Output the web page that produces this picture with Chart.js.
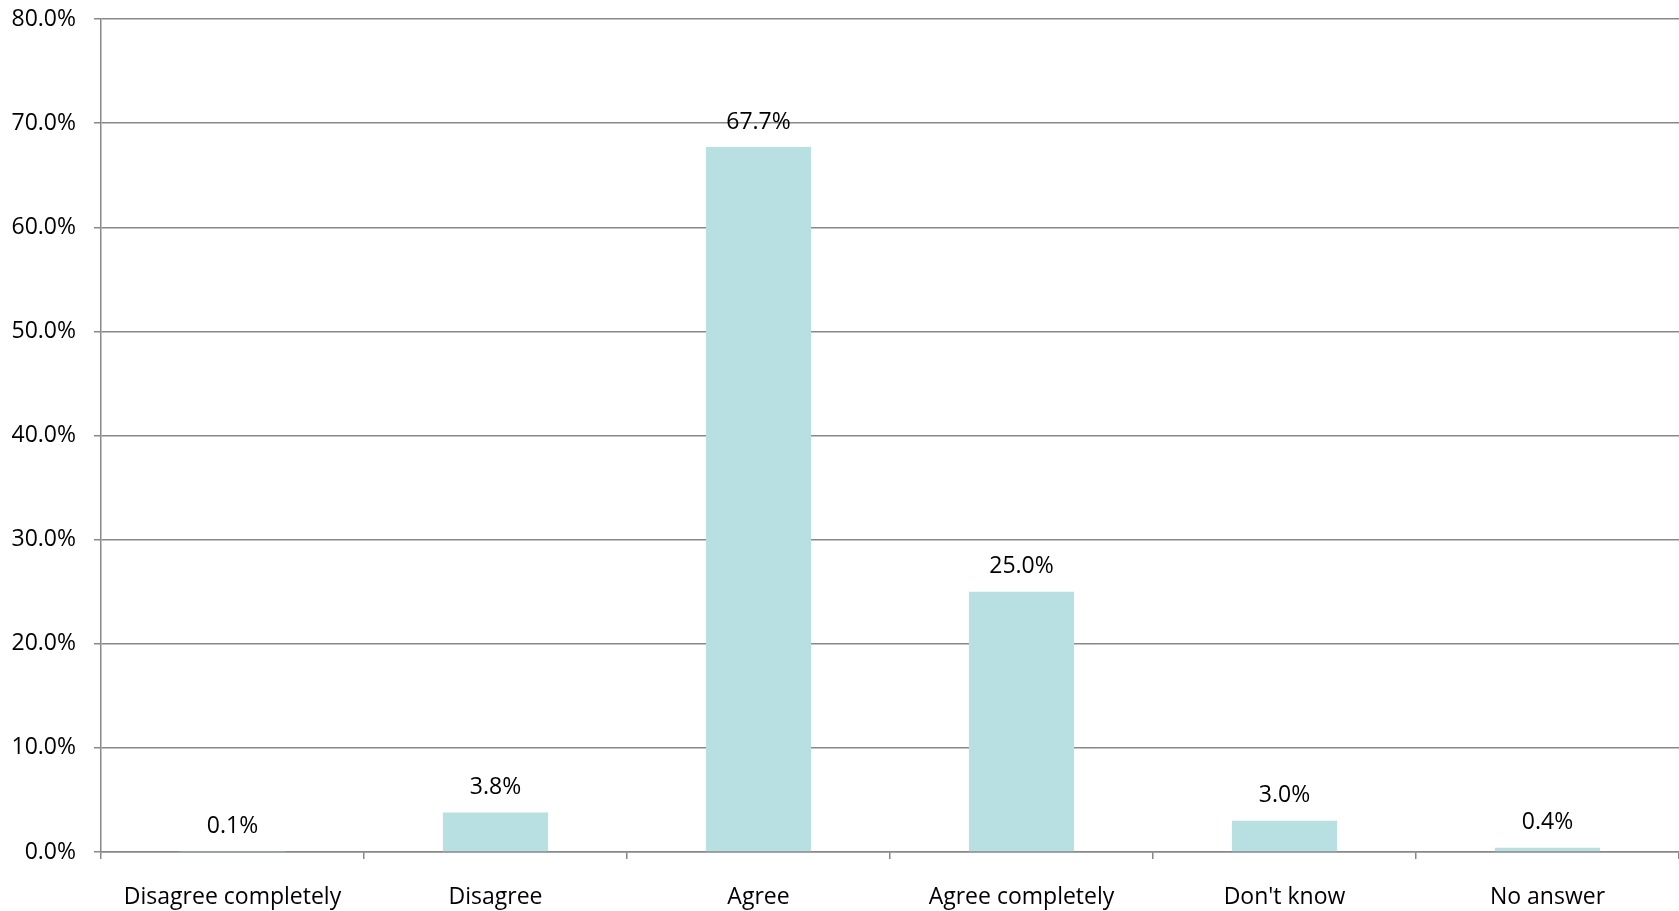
<!DOCTYPE html>
<html>
<head>
<meta charset="utf-8">
<script src="https://cdn.jsdelivr.net/npm/chart.js@4"></script>
<style>
  html, body { margin: 0; padding: 0; background: #fff; }
  #wrap { width: 1679px; height: 911px; }
</style>
</head>
<body>
<div id="wrap"><canvas id="myChart"></canvas></div>
<script>
var categories = ['Disagree completely', 'Disagree', 'Agree', 'Agree completely', "Don't know", 'No answer'];
var shares = [0.1, 3.8, 67.7, 25.0, 3.0, 0.4];
var yMax = 80;
var yStep = 10;

// draws the value above each bar
var valueLabels = {
    id: 'valueLabels',
    afterDatasetsDraw: function (chart) {
        var c = chart.ctx;
        var meta = chart.getDatasetMeta(0);
        c.save();
        c.font = '23px "Open Sans"';
        c.fillStyle = '#000';
        c.textAlign = 'center';
        c.textBaseline = 'middle';
        meta.data.forEach(function (bar, i) {
            c.fillText(shares[i].toFixed(1) + '%', bar.x, bar.y - 25);
        });
        c.restore();
    }
};

var ctx = document.getElementById('myChart').getContext('2d');
var chart = new Chart(ctx, {
    type: 'bar',
    data: {
        labels: categories,
        datasets: [{
            data: shares,
            backgroundColor: 'rgb(184,223,226)',
            barPercentage: 0.4,
            categoryPercentage: 1
        }]
    },
    options: {
        responsive: true,
        maintainAspectRatio: false,
        animation: false,
        layout: { padding: { top: 19, right: 0, left: 0, bottom: 0 } },
        plugins: {
            legend: { display: false },
            tooltip: { enabled: false }
        },
        scales: {
            x: {
                offset: true,
                grid: {
                    offset: true,
                    drawOnChartArea: false,
                    drawTicks: true,
                    tickLength: 7,
                    color: '#888',
                    lineWidth: 1.5
                },
                border: { display: true, color: '#888', width: 1.5 },
                ticks: {
                    color: '#000',
                    font: { family: 'Open Sans', size: 23 },
                    padding: 25,
                    maxRotation: 0
                },
                afterFit: function (s) { s.height = 59; }
            },
            y: {
                min: 0,
                max: yMax,
                grid: {
                    color: '#888',
                    lineWidth: 1.5,
                    tickLength: 7
                },
                border: { display: true, color: '#888', width: 1.5 },
                ticks: {
                    stepSize: yStep,
                    color: '#000',
                    font: { family: 'Open Sans', size: 23 },
                    padding: 18,
                    callback: function (v) { return v.toFixed(1) + '%'; }
                },
                afterFit: function (s) {
                    s.width = 101;
                    s.paddingTop = 0;
                    s.paddingBottom = 0;
                }
            }
        }
    },
    plugins: [valueLabels]
});
</script>
</body>
</html>
